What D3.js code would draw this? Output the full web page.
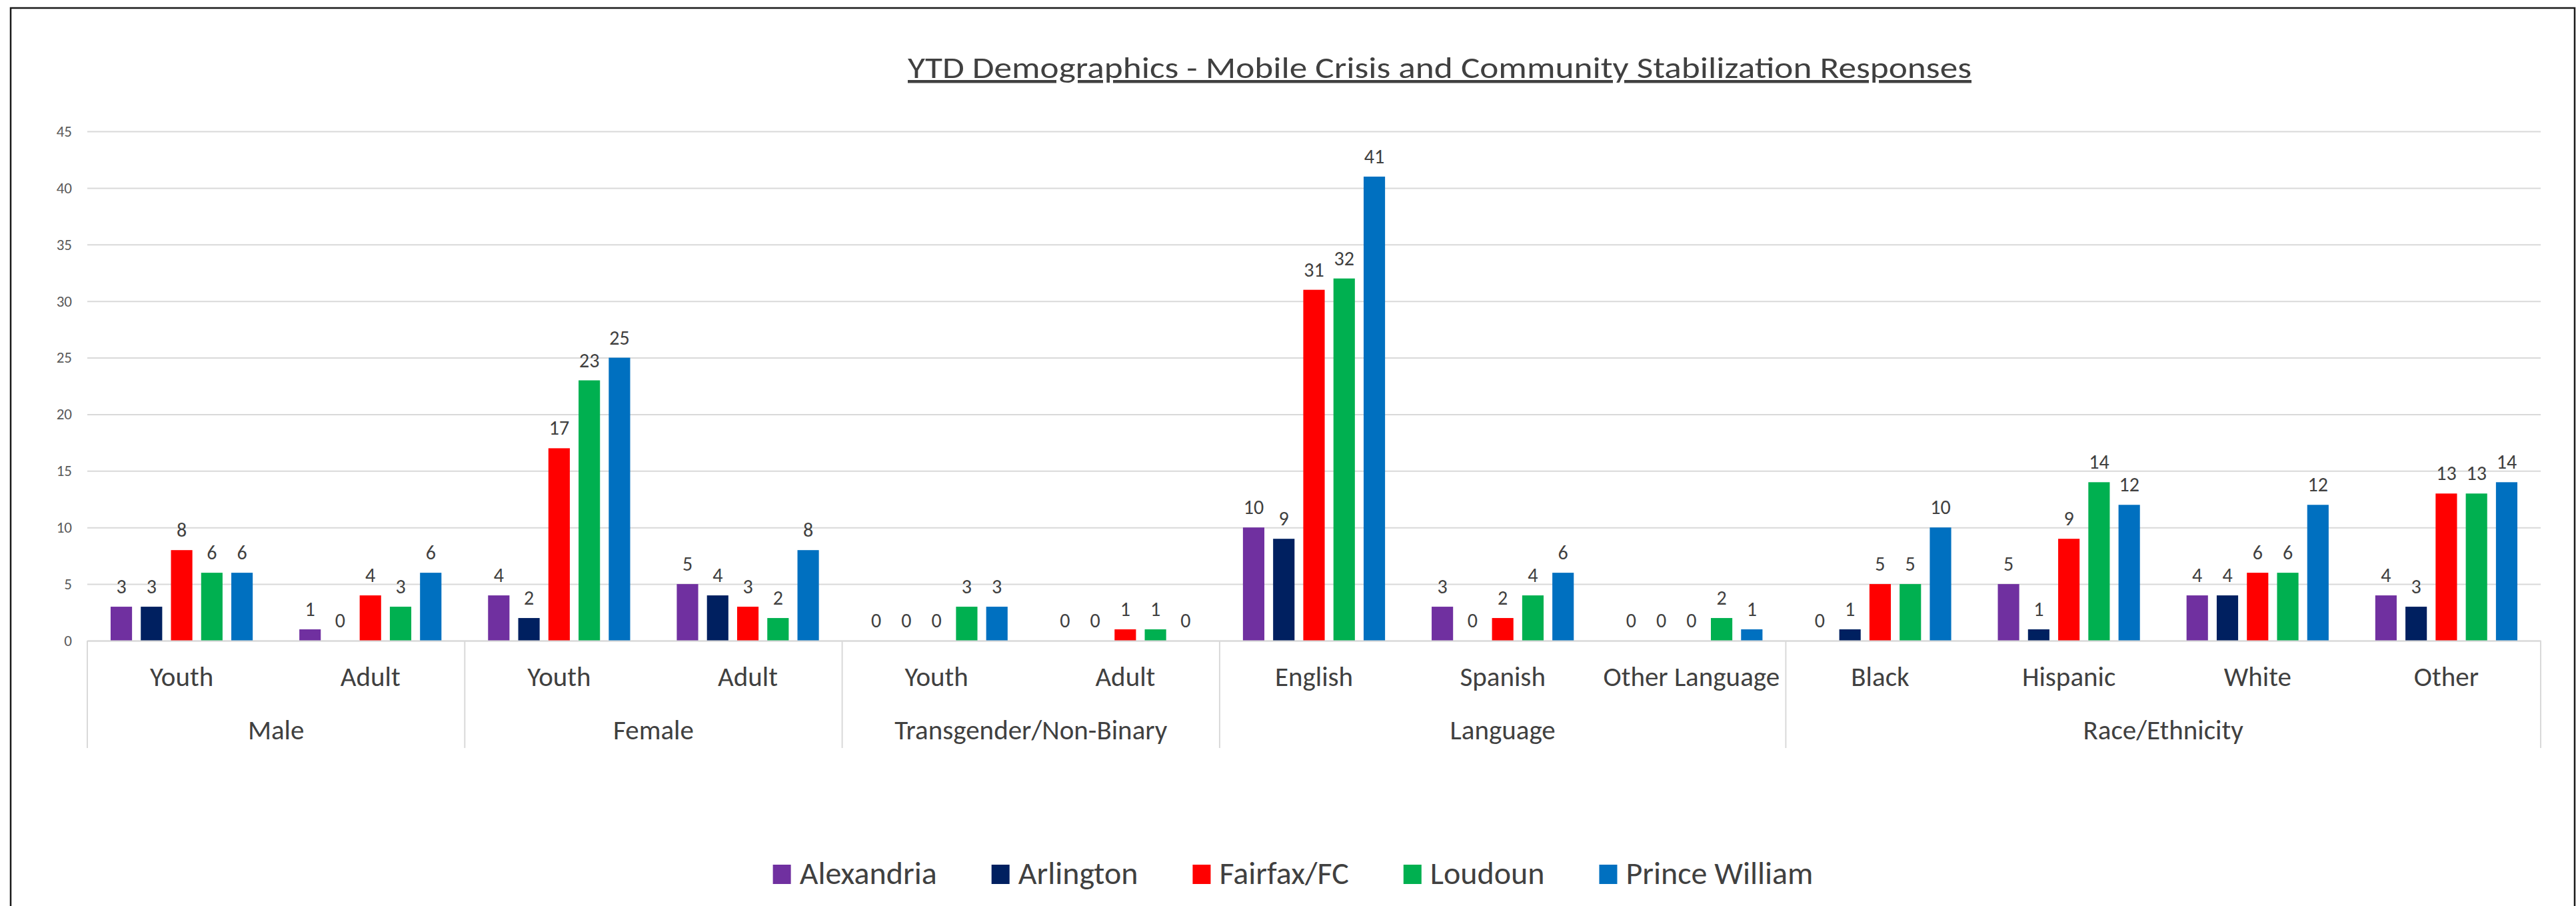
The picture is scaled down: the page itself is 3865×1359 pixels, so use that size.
<!DOCTYPE html>
<html>
<head>
<meta charset="utf-8">
<script src="https://cdn.jsdelivr.net/npm/d3@7"></script>
<style>
  html, body { margin: 0; padding: 0; background: #ffffff; }
  svg { display: block; }
  text { font-family: Carlito, Calibri, Lato, "Open Sans", sans-serif; }
</style>
</head>
<body>
<svg id="chart" width="3865" height="1359"></svg>
<script>
// ---- data ----
const title = "YTD Demographics - Mobile Crisis and Community Stabilization Responses";
const groups = ["Male", "Female", "Transgender/Non-Binary", "Language", "Race/Ethnicity"];
const groupSizes = [2, 2, 2, 3, 4];
const subcategories = ["Youth", "Adult", "Youth", "Adult", "Youth", "Adult",
  "English", "Spanish", "Other Language", "Black", "Hispanic", "White", "Other"];
const seriesNames = ["Alexandria", "Arlington", "Fairfax/FC", "Loudoun", "Prince William"];
const alexandria    = [3, 1, 4, 5, 0, 0, 10, 3, 0, 0, 5, 4, 4];
const arlington     = [3, 0, 2, 4, 0, 0, 9, 0, 0, 1, 1, 4, 3];
const fairfax       = [8, 4, 17, 3, 0, 1, 31, 2, 0, 5, 9, 6, 13];
const loudoun       = [6, 3, 23, 2, 3, 1, 32, 4, 2, 5, 14, 6, 13];
const princeWilliam = [6, 6, 25, 8, 3, 0, 41, 6, 1, 10, 12, 12, 14];
const seriesColors = ["#7030A0", "#002060", "#FF0000", "#00B050", "#0070C0"];
const yTicks = [0, 5, 10, 15, 20, 25, 30, 35, 40, 45];

const seriesValues = [alexandria, arlington, fairfax, loudoun, princeWilliam];

// ---- layout ----
const W = 3865, H = 1359;
const plot = { left: 131, right: 3812, top: 197, bottom: 961 };
const svg = d3.select("#chart");

// chart border (top, left, right)
svg.append("path")
  .attr("d", `M16,${H} L16,12 L3863,12 L3863,${H}`)
  .attr("fill", "none").attr("stroke", "#1a1a1a").attr("stroke-width", 2.5);

// scales
const idx = d3.range(subcategories.length);
const x = d3.scaleBand().domain(idx).range([plot.left, plot.right])
  .paddingInner(0.247).paddingOuter(0.1235);
const xs = d3.scaleBand().domain(d3.range(seriesNames.length))
  .range([0, x.bandwidth()]).paddingInner(0.29).paddingOuter(0);
const y = d3.scaleLinear().domain([0, 45]).range([plot.bottom, plot.top]);

// gridlines
const grid = svg.append("g").attr("transform", `translate(${plot.left},0)`)
  .call(d3.axisLeft(y).tickValues(yTicks).tickSize(-(plot.right - plot.left)).tickFormat(""));
grid.select(".domain").remove();
grid.selectAll(".tick line").attr("stroke", "#D9D9D9").attr("stroke-width", 2);

// y-axis labels
const yAxis = svg.append("g").attr("transform", `translate(${plot.left - 23},0)`)
  .call(d3.axisLeft(y).tickValues(yTicks).tickSize(0).tickPadding(0));
yAxis.select(".domain").remove();
yAxis.selectAll("text").attr("fill", "#595959").attr("font-size", 23)
  .attr("font-family", "Carlito, Calibri, Lato, sans-serif");

// bars
const barG = svg.append("g");
seriesNames.forEach((name, s) => {
  barG.append("g").attr("fill", seriesColors[s])
    .selectAll("rect").data(seriesValues[s]).join("rect")
    .attr("x", (d, i) => x(i) + xs(s))
    .attr("y", d => y(d))
    .attr("width", xs.bandwidth())
    .attr("height", d => y(0) - y(d));
});

// data labels
seriesNames.forEach((name, s) => {
  svg.append("g").selectAll("text").data(seriesValues[s]).join("text")
    .attr("x", (d, i) => x(i) + xs(s) + xs.bandwidth() / 2)
    .attr("y", d => y(d) - 20)
    .attr("text-anchor", "middle")
    .attr("font-size", 30)
    .attr("fill", "#404040")
    .text(d => d);
});

// x axis baseline + sub-category labels
const xAxis = svg.append("g").attr("transform", `translate(0,${plot.bottom})`)
  .call(d3.axisBottom(x).tickSize(0).tickFormat(i => subcategories[i]));
xAxis.select(".domain").attr("stroke", "#D9D9D9").attr("stroke-width", 2);
xAxis.selectAll("text").attr("y", 68).attr("dy", 0)
  .attr("font-size", 41).attr("fill", "#404040")
  .attr("font-family", "Carlito, Calibri, Lato, sans-serif");

// group dividers and group labels
const step = x.step();
const x0 = x.range()[0];
let start = 0;
const bounds = [0];
groupSizes.forEach(n => { start += n; bounds.push(start); });
svg.append("g").selectAll("line").data(bounds).join("line")
  .attr("x1", b => x0 + b * step).attr("x2", b => x0 + b * step)
  .attr("y1", plot.bottom).attr("y2", 1122)
  .attr("stroke", "#D9D9D9").attr("stroke-width", 2);
svg.append("g").selectAll("text").data(groups).join("text")
  .attr("x", (g, k) => x0 + (bounds[k] + bounds[k + 1]) / 2 * step)
  .attr("y", 1109)
  .attr("text-anchor", "middle")
  .attr("font-size", 41).attr("fill", "#404040")
  .text(g => g);

// title
svg.append("text")
  .attr("x", 2160).attr("y", 117)
  .attr("text-anchor", "middle")
  .attr("font-size", 45).attr("fill", "#404040")
  .attr("text-decoration", "underline")
  .attr("textLength", 1596).attr("lengthAdjust", "spacingAndGlyphs")
  .text(title);

// legend
const legend = svg.append("g");
const items = legend.selectAll("g").data(seriesNames).join("g");
items.append("rect").attr("width", 27).attr("height", 29).attr("y", 1297)
  .attr("fill", (d, s) => seriesColors[s]);
items.append("text").attr("y", 1326).attr("font-size", 48).attr("fill", "#404040")
  .text(d => d);
const widths = [];
items.select("text").each(function () { widths.push(this.getComputedTextLength()); });
const entryW = widths.map(w => 27 + 13 + w);
const gap = 82;
const total = d3.sum(entryW) + gap * (entryW.length - 1);
let cx = 1940 - total / 2;
items.each(function (d, s) {
  const g = d3.select(this);
  g.select("rect").attr("x", cx);
  g.select("text").attr("x", cx + 40);
  cx += entryW[s] + gap;
});
</script>
</body>
</html>
